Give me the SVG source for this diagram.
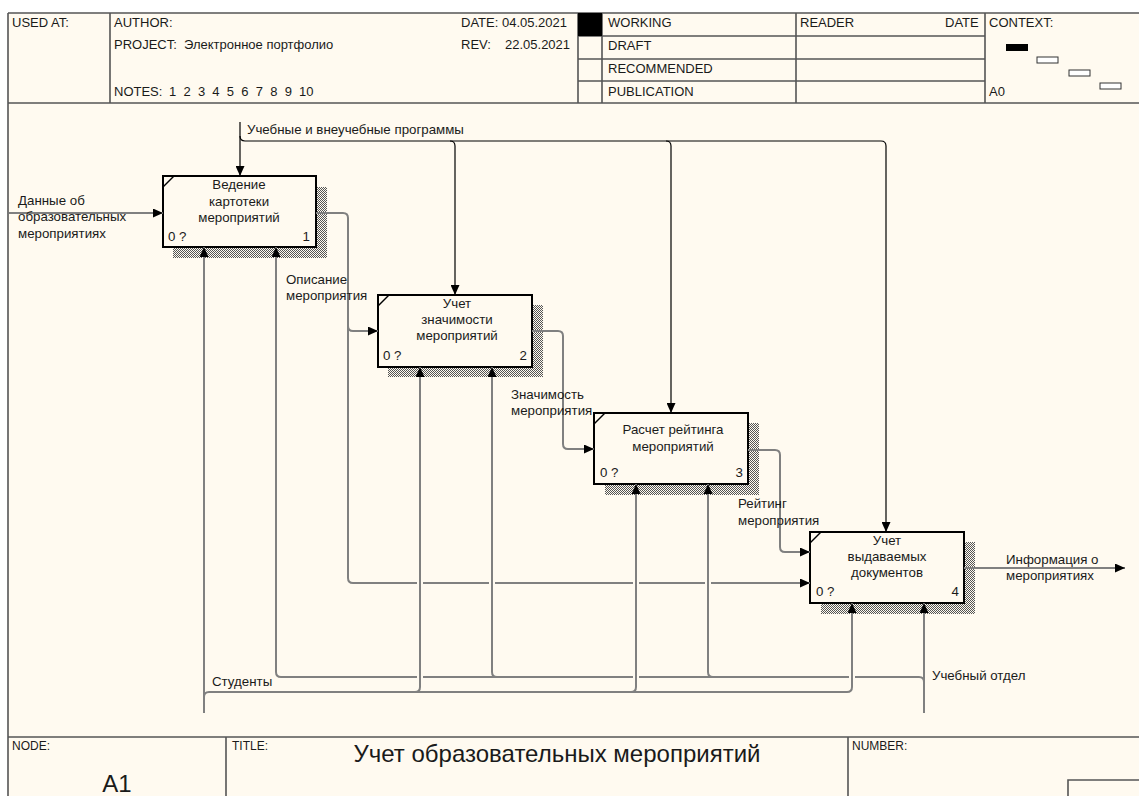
<svg xmlns="http://www.w3.org/2000/svg" width="1139" height="796" viewBox="0 0 1139 796">
  <style>
    text { font-family: "Liberation Sans", Arial, sans-serif; fill: #1a1a1a; }
    .hdr { font-size: 13px; }
    .lbl { font-size: 13.3px; }
    .box-title { font-size: 13.3px; text-anchor: middle; }
    .frame { stroke: #555; stroke-width: 1.6; fill: none; }
    .box { fill: #fffaf0; stroke: #000; stroke-width: 2; }
    .shadow { fill: url(#hatch); }
    .ctl { stroke: #000; stroke-width: 1.2; fill: none; }
    .flow { stroke: #808080; stroke-width: 2; fill: none; }
    .arr { marker-end: url(#arrow); }
  </style>
  <defs>
    <pattern id="hatch" width="2" height="2" patternUnits="userSpaceOnUse">
      <rect width="2" height="2" fill="#fffaf0"/>
      <rect width="1" height="1" fill="#555"/>
      <rect x="1" y="1" width="1" height="1" fill="#555"/>
    </pattern>
    <marker id="arrow" viewBox="0 0 10 9" refX="10" refY="4.5" markerWidth="10" markerHeight="9" markerUnits="userSpaceOnUse" orient="auto">
      <path d="M0,0 L10,4.5 L0,9 z" fill="#000"/>
    </marker>
  </defs>

  <rect width="1139" height="796" fill="#ffffff"/>
  <rect x="8" y="13" width="1131" height="783" fill="#fffaf0"/>

  <!-- header form -->
  <g id="header">
    <path class="frame" d="M8,13 H1139 M8,13 V796 M8,103 H1139 M110,13 V103 M578,13 V103 M602,13 V103 M796,13 V103 M985,13 V103 M578,36 H985 M578,59 H985 M578,81 H985"/>
    <rect x="578" y="13" width="24" height="23" fill="#000"/>
    <text class="hdr" x="12" y="27">USED AT:</text>
    <text class="hdr" x="114" y="27">AUTHOR:</text>
    <text class="hdr" x="114" y="49">PROJECT:</text>
    <text class="hdr" x="184" y="49">Электронное портфолио</text>
    <text class="hdr" x="114" y="96">NOTES:</text>
    <text class="hdr" x="169" y="96" xml:space="preserve">1  2  3  4  5  6  7  8  9  10</text>
    <text class="hdr" x="461" y="27">DATE:  04.05.2021</text>
    <text class="hdr" x="461" y="49">REV:</text>
    <text class="hdr" x="505" y="49">22.05.2021</text>
    <text class="hdr" x="608" y="27">WORKING</text>
    <text class="hdr" x="608" y="50">DRAFT</text>
    <text class="hdr" x="608" y="73">RECOMMENDED</text>
    <text class="hdr" x="608" y="96">PUBLICATION</text>
    <text class="hdr" x="800" y="27">READER</text>
    <text class="hdr" x="945" y="27">DATE</text>
    <text class="hdr" x="989" y="27">CONTEXT:</text>
    <text class="hdr" x="989" y="96">A0</text>
    <rect x="1006" y="44" width="22" height="7" fill="#000"/>
    <rect x="1037" y="57" width="21" height="6" fill="#fff" stroke="#333" stroke-width="1"/>
    <rect x="1069" y="70" width="21" height="6" fill="#fff" stroke="#333" stroke-width="1"/>
    <rect x="1100" y="83" width="21" height="6" fill="#fff" stroke="#333" stroke-width="1"/>
  </g>

  <!-- footer form -->
  <g id="footer">
    <path class="frame" d="M8,737 H1139 M226,737 V796 M848,737 V796 M1068,796 V780 H1139"/>
    <text x="12" y="750" style="font-size:12px">NODE:</text>
    <text x="117" y="792" style="font-size:24px" text-anchor="middle">A1</text>
    <text x="232" y="750" style="font-size:12px">TITLE:</text>
    <text x="557" y="762" style="font-size:24px" text-anchor="middle">Учет образовательных мероприятий</text>
    <text x="852" y="750" style="font-size:12px">NUMBER:</text>
  </g>

  <!-- activity boxes -->
  <g id="box1">
    <rect class="shadow" x="173" y="187" width="154" height="71"/>
    <rect class="box" x="163" y="176" width="153" height="71"/>
    <path d="M163,187 L174,176" stroke="#000" stroke-width="1.5"/>
    <text class="box-title" x="239" y="189">Ведение</text>
    <text class="box-title" x="239" y="206">картотеки</text>
    <text class="box-title" x="239" y="222">мероприятий</text>
    <text class="lbl" x="168" y="241">0 ?</text>
    <text class="lbl" x="310" y="241" text-anchor="end">1</text>
  </g>

  <g id="box2">
    <rect class="shadow" x="388" y="305" width="155" height="72"/>
    <rect class="box" x="378" y="295" width="154" height="72"/>
    <path d="M378,306 L389,295" stroke="#000" stroke-width="1.5"/>
    <text class="box-title" x="457" y="308">Учет</text>
    <text class="box-title" x="457" y="324">значимости</text>
    <text class="box-title" x="457" y="340">мероприятий</text>
    <text class="lbl" x="383" y="360">0 ?</text>
    <text class="lbl" x="527" y="360" text-anchor="end">2</text>
  </g>

  <g id="box3">
    <rect class="shadow" x="605" y="423" width="154" height="72"/>
    <rect class="box" x="594" y="413" width="154" height="71"/>
    <path d="M594,424 L605,413" stroke="#000" stroke-width="1.5"/>
    <text class="box-title" x="673" y="434">Расчет рейтинга</text>
    <text class="box-title" x="673" y="451">мероприятий</text>
    <text class="lbl" x="600" y="477">0 ?</text>
    <text class="lbl" x="743" y="477" text-anchor="end">3</text>
  </g>

  <g id="box4">
    <rect class="shadow" x="821" y="542" width="154" height="72"/>
    <rect class="box" x="810" y="532" width="154" height="71"/>
    <path d="M810,543 L821,532" stroke="#000" stroke-width="1.5"/>
    <text class="box-title" x="887" y="545">Учет</text>
    <text class="box-title" x="887" y="561">выдаваемых</text>
    <text class="box-title" x="887" y="577">документов</text>
    <text class="lbl" x="816" y="596">0 ?</text>
    <text class="lbl" x="959" y="596" text-anchor="end">4</text>
  </g>

  <!-- arrows -->
  <g id="connectors">
    <!-- control: programmes -->
    <path class="ctl arr" d="M240,122 V176"/>
    <path class="ctl arr" d="M240,136 Q240,141 245,141 H881 Q886,141 886,146 V532"/>
    <path class="ctl arr" d="M450,141 Q455,141 455,146 V295"/>
    <path class="ctl arr" d="M666,141 Q671,141 671,146 V413"/>

    <!-- input -->
    <path class="flow arr" d="M9,213 H163"/>

    <!-- outputs -->
    <path class="flow arr" d="M316,213 H343 Q348,213 348,218 V326 Q348,331 353,331 H378"/>
    <path class="flow" d="M348,326 V578 Q348,583 353,583 H417 M423,583 H489 M495,583 H633 M639,583 H705"/>
    <path class="flow arr" d="M711,583 H810"/>
    <path class="flow arr" d="M532,331 H558 Q563,331 563,336 V444 Q563,449 568,449 H594"/>
    <path class="flow arr" d="M748,450 H775 Q780,450 780,455 V547 Q780,552 785,552 H810"/>
    <path class="flow arr" d="M964,568 H1125"/>

    <!-- mechanism: students -->
    <path class="flow arr" d="M204,713 V247"/>
    <path class="flow arr" d="M204,697 Q204,692 209,692 H847 Q852,692 852,687 V603"/>
    <path class="flow arr" d="M415,692 Q420,692 420,687 V367"/>
    <path class="flow arr" d="M631,692 Q636,692 636,687 V484"/>

    <!-- mechanism: academic office -->
    <path class="flow arr" d="M924,713 V603"/>
    <path class="flow" d="M924,682 Q924,677 919,677 H855 M849,677 H639 M633,677 H423 M417,677 H281 Q276,677 276,672"/>
    <path class="flow arr" d="M276,672 V247"/>
    <path class="flow arr" d="M497,677 Q492,677 492,672 V367"/>
    <path class="flow arr" d="M713,677 Q708,677 708,672 V484"/>

    <!-- labels -->
    <text class="lbl" x="247" y="134">Учебные и внеучебные программы</text>
    <text class="lbl" x="18" y="205">Данные об</text>
    <text class="lbl" x="18" y="221">образовательных</text>
    <text class="lbl" x="18" y="238">мероприятиях</text>
    <text class="lbl" x="286" y="284">Описание</text>
    <text class="lbl" x="286" y="300">мероприятия</text>
    <text class="lbl" x="511" y="399">Значимость</text>
    <text class="lbl" x="511" y="415">мероприятия</text>
    <text class="lbl" x="738" y="508">Рейтинг</text>
    <text class="lbl" x="738" y="525">мероприятия</text>
    <text class="lbl" x="1006" y="564">Информация о</text>
    <text class="lbl" x="1006" y="580">мероприятиях</text>
    <text class="lbl" x="212" y="686">Студенты</text>
    <text class="lbl" x="932" y="680">Учебный отдел</text>
  </g>
</svg>
